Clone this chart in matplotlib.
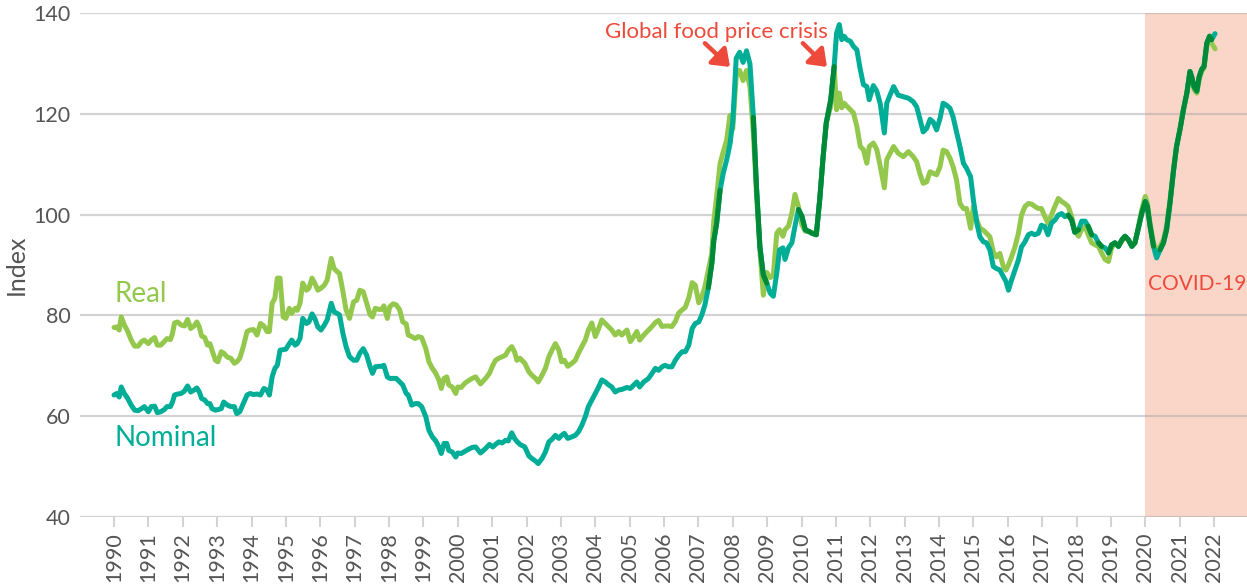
import numpy as np
import matplotlib
matplotlib.use("Agg")
import matplotlib.pyplot as plt
from matplotlib.patches import FancyArrowPatch

# ---------------- data ----------------
t = [1990.00, 1990.08, 1990.15, 1990.21, 1990.30, 1990.40, 1990.50, 1990.60, 1990.70, 1990.80,
     1990.88, 1991.00, 1991.08, 1991.18, 1991.26, 1991.36, 1991.46, 1991.54, 1991.64, 1991.70,
     1991.76, 1991.85, 1991.95, 1992.05, 1992.14, 1992.23, 1992.33, 1992.41, 1992.48, 1992.55,
     1992.64, 1992.72, 1992.79, 1992.85, 1992.95, 1993.02, 1993.12, 1993.19, 1993.30, 1993.40,
     1993.50, 1993.57, 1993.66, 1993.76, 1993.87, 1993.96, 1994.06, 1994.16, 1994.26, 1994.36,
     1994.45, 1994.52, 1994.60, 1994.68, 1994.75, 1994.83, 1994.92, 1995.00, 1995.10, 1995.17,
     1995.27, 1995.33, 1995.41, 1995.49, 1995.60, 1995.67, 1995.76, 1995.84, 1995.93, 1996.02,
     1996.12, 1996.20, 1996.32, 1996.40, 1996.49, 1996.56, 1996.66, 1996.75, 1996.85, 1996.97,
     1997.06, 1997.15, 1997.25, 1997.35, 1997.45, 1997.52, 1997.60, 1997.70, 1997.79, 1997.85,
     1997.95, 1998.02, 1998.12, 1998.21, 1998.31, 1998.40, 1998.50, 1998.56, 1998.66, 1998.76,
     1998.85, 1998.95, 1999.07, 1999.16, 1999.26, 1999.36, 1999.45, 1999.52, 1999.60, 1999.68,
     1999.74, 1999.84, 1999.94, 2000.00, 2000.10, 2000.20, 2000.30, 2000.42, 2000.52, 2000.66,
     2000.81, 2000.92, 2001.02, 2001.10, 2001.19, 2001.29, 2001.39, 2001.47, 2001.57, 2001.65,
     2001.72, 2001.81, 2001.95, 2002.07, 2002.16, 2002.26, 2002.34, 2002.45, 2002.55, 2002.65,
     2002.74, 2002.84, 2002.94, 2003.02, 2003.10, 2003.20, 2003.32, 2003.42, 2003.51, 2003.61,
     2003.71, 2003.80, 2003.90, 2004.00, 2004.10, 2004.19, 2004.29, 2004.39, 2004.48, 2004.58,
     2004.68, 2004.77, 2004.92, 2005.02, 2005.12, 2005.21, 2005.29, 2005.41, 2005.55, 2005.65,
     2005.75, 2005.84, 2005.94, 2006.03, 2006.13, 2006.23, 2006.33, 2006.43, 2006.53, 2006.62,
     2006.72, 2006.82, 2006.91, 2007.01, 2007.10, 2007.19, 2007.29, 2007.39, 2007.45, 2007.53,
     2007.63, 2007.72, 2007.82, 2007.92, 2008.00, 2008.10, 2008.20, 2008.30, 2008.40, 2008.50,
     2008.60, 2008.69, 2008.79, 2008.89, 2008.99, 2009.09, 2009.18, 2009.28, 2009.36, 2009.46,
     2009.52, 2009.62, 2009.72, 2009.81, 2009.91, 2010.01, 2010.11, 2010.20, 2010.30, 2010.43,
     2010.53, 2010.63, 2010.72, 2010.85, 2010.95, 2011.02, 2011.10, 2011.17, 2011.24, 2011.32,
     2011.42, 2011.51, 2011.61, 2011.71, 2011.80, 2011.90, 2011.97, 2012.09, 2012.19, 2012.29,
     2012.41, 2012.48, 2012.58, 2012.68, 2012.81, 2012.96, 2013.11, 2013.25, 2013.35, 2013.44,
     2013.54, 2013.64, 2013.74, 2013.83, 2013.93, 2014.03, 2014.12, 2014.22, 2014.32, 2014.41,
     2014.51, 2014.61, 2014.71, 2014.80, 2014.92, 2015.00, 2015.10, 2015.19, 2015.29, 2015.38,
     2015.48, 2015.58, 2015.67, 2015.77, 2015.87, 2015.95, 2016.02, 2016.11, 2016.21, 2016.31,
     2016.40, 2016.50, 2016.60, 2016.69, 2016.79, 2016.89, 2016.98, 2017.08, 2017.17, 2017.27,
     2017.37, 2017.47, 2017.57, 2017.66, 2017.76, 2017.86, 2017.95, 2018.06, 2018.15, 2018.25,
     2018.34, 2018.44, 2018.54, 2018.64, 2018.73, 2018.83, 2018.93, 2019.02, 2019.12, 2019.22,
     2019.32, 2019.41, 2019.51, 2019.61, 2019.70, 2019.80, 2019.90, 2020.00, 2020.06, 2020.14,
     2020.24, 2020.33, 2020.43, 2020.53, 2020.62, 2020.72, 2020.82, 2020.91, 2021.01, 2021.11,
     2021.21, 2021.30, 2021.35, 2021.42, 2021.50, 2021.57, 2021.64, 2021.71, 2021.79, 2021.87,
     2021.93, 2022.03]

real = [77.6, 77.7, 77.1, 79.7, 78.1, 76.8, 75.1, 73.9, 73.9, 74.8,
        75.1, 74.4, 75.1, 75.6, 74.1, 74.1, 74.8, 75.4, 75.2, 76.4,
        78.5, 78.7, 78.1, 77.9, 79.2, 77.4, 77.9, 78.7, 77.7, 75.9,
        75.6, 74.1, 74.4, 73.1, 71.1, 70.8, 72.8, 72.5, 71.7, 71.5,
        70.5, 70.8, 71.5, 73.8, 76.8, 77.1, 77.2, 76.1, 78.4, 77.9,
        76.8, 76.8, 82.4, 83.4, 87.4, 87.4, 79.7, 79.4, 81.4, 80.4,
        81.4, 81.0, 82.4, 86.4, 85.0, 85.4, 87.4, 86.4, 85.0, 85.4,
        86.0, 87.0, 91.3, 89.3, 88.7, 88.3, 84.7, 81.1, 79.4, 82.7,
        83.0, 85.0, 84.7, 82.4, 80.1, 79.7, 81.4, 81.2, 81.2, 81.9,
        79.4, 81.7, 82.3, 82.1, 81.1, 78.7, 78.3, 76.1, 75.8, 75.4,
        75.8, 75.6, 73.4, 70.8, 69.5, 68.5, 67.2, 65.5, 67.5, 67.8,
        66.2, 65.8, 64.5, 65.8, 65.7, 66.5, 67.0, 67.5, 67.8, 66.4,
        67.5, 68.5, 70.1, 71.1, 71.5, 71.8, 72.1, 73.1, 73.8, 72.8,
        71.1, 71.5, 70.5, 68.8, 68.1, 67.5, 66.8, 68.1, 69.5, 71.8,
        73.1, 74.4, 73.1, 70.8, 71.1, 69.9, 70.5, 71.1, 72.5, 73.8,
        75.1, 77.1, 78.5, 75.8, 77.4, 79.1, 78.4, 77.7, 77.1, 76.1,
        76.8, 76.1, 77.1, 74.8, 75.8, 76.8, 75.1, 76.1, 77.1, 77.8,
        78.6, 79.0, 77.8, 77.9, 77.9, 77.8, 78.8, 80.5, 81.1, 81.6,
        83.5, 86.5, 86.0, 82.5, 83.7, 85.7, 89.0, 92.3, 98.9, 103.5,
        110.1, 112.4, 114.7, 119.7, 117.0, 127.5, 128.6, 126.6, 128.6, 125.3,
        116.0, 104.2, 92.9, 84.0, 88.5, 87.5, 88.0, 96.3, 97.0, 95.7,
        97.0, 97.7, 100.3, 104.0, 101.6, 98.0, 96.7, 96.7, 96.5, 96.0,
        103.0, 111.6, 118.2, 121.5, 129.4, 120.8, 124.1, 121.2, 122.1, 121.5,
        120.8, 120.2, 117.5, 113.5, 112.9, 110.2, 113.5, 114.2, 112.9, 109.6,
        105.3, 110.9, 112.2, 113.5, 112.2, 111.5, 112.5, 111.5, 110.5, 108.2,
        106.2, 106.5, 108.5, 108.2, 107.9, 109.5, 112.8, 112.5, 111.2, 109.5,
        106.9, 102.2, 101.2, 101.2, 97.3, 101.6, 98.9, 97.3, 96.9, 96.3,
        95.6, 92.6, 91.6, 92.3, 89.7, 89.0, 90.0, 91.6, 93.6, 96.3,
        99.9, 101.6, 102.2, 102.1, 101.6, 101.2, 101.2, 99.6, 98.3, 99.9,
        101.6, 103.2, 102.6, 102.2, 101.6, 99.6, 96.8, 95.7, 97.0, 97.7,
        96.0, 94.4, 94.0, 93.7, 92.4, 91.1, 90.7, 93.4, 94.4, 93.7,
        94.7, 95.7, 95.0, 93.7, 94.4, 97.7, 101.0, 103.6, 102.3, 98.3,
        94.4, 92.7, 93.7, 95.0, 97.7, 103.0, 108.9, 113.5, 116.9, 120.8,
        124.1, 128.1, 127.1, 124.8, 124.1, 126.8, 128.4, 129.1, 133.4, 135.0,
        134.0, 132.9]

nominal = [64.2, 64.5, 63.8, 65.8, 64.5, 63.5, 62.2, 61.2, 61.1, 61.5,
           61.9, 60.9, 61.9, 62.0, 60.7, 60.9, 61.3, 61.9, 61.9, 62.8,
           64.2, 64.4, 64.5, 65.0, 66.0, 64.8, 65.2, 65.6, 64.8, 63.5,
           63.2, 62.5, 62.5, 61.5, 61.2, 61.3, 61.5, 62.8, 62.2, 61.9,
           61.9, 60.5, 60.9, 62.5, 64.2, 64.5, 64.3, 64.4, 64.2, 65.5,
           65.2, 64.2, 67.8, 69.5, 70.1, 73.1, 73.2, 73.3, 74.4, 75.1,
           74.1, 74.4, 75.4, 79.4, 78.4, 78.7, 80.3, 79.4, 77.7, 77.1,
           78.1, 79.1, 82.4, 80.7, 80.4, 80.1, 76.4, 73.8, 71.8, 71.1,
           71.1, 72.5, 73.4, 72.1, 69.8, 68.5, 69.8, 69.9, 69.9, 70.1,
           67.8, 67.5, 67.5, 67.5, 66.8, 66.2, 64.5, 64.2, 62.2, 62.5,
           62.5, 61.9, 59.9, 57.2, 55.9, 55.1, 53.9, 52.6, 54.6, 54.6,
           53.2, 52.9, 51.9, 52.7, 52.6, 53.0, 53.4, 53.8, 53.9, 52.7,
           53.6, 54.4, 53.9, 54.4, 54.9, 54.7, 55.2, 55.1, 56.7, 55.6,
           55.0, 54.4, 53.9, 52.1, 51.6, 51.1, 50.6, 51.6, 52.9, 54.9,
           55.4, 56.2, 55.6, 56.2, 56.6, 55.6, 55.9, 56.2, 56.9, 58.2,
           59.9, 61.9, 63.2, 64.5, 65.8, 67.2, 66.8, 66.2, 65.8, 64.8,
           65.2, 65.3, 65.7, 65.5, 66.2, 66.8, 65.8, 66.8, 67.5, 68.5,
           69.5, 69.1, 69.8, 70.1, 69.8, 69.8, 71.1, 72.1, 72.8, 72.8,
           74.1, 77.4, 78.4, 78.7, 80.1, 82.1, 85.5, 90.3, 94.9, 98.2,
           104.8, 108.1, 110.8, 114.0, 118.5, 131.0, 132.2, 130.2, 132.5, 129.9,
           119.3, 105.5, 93.6, 88.0, 86.4, 84.4, 83.8, 88.4, 93.0, 93.4,
           91.1, 93.4, 94.4, 97.7, 101.0, 99.7, 97.0, 96.7, 96.3, 96.0,
           103.0, 111.6, 118.2, 122.8, 129.4, 136.0, 137.7, 134.7, 135.4, 134.7,
           134.4, 133.4, 132.7, 128.8, 125.8, 125.4, 122.8, 125.6, 124.5, 122.0,
           116.2, 122.1, 123.8, 125.4, 123.7, 123.4, 123.1, 122.4, 121.4, 119.1,
           116.4, 117.1, 118.9, 118.4, 116.8, 119.1, 122.1, 121.7, 121.1, 119.4,
           116.4, 113.5, 110.2, 109.2, 107.5, 102.9, 98.3, 95.6, 94.6, 94.4,
           93.0, 89.7, 89.3, 89.0, 87.7, 86.7, 85.0, 87.0, 89.0, 91.0,
           93.6, 94.6, 96.0, 96.3, 96.0, 96.3, 97.9, 97.6, 96.0, 98.3,
           98.9, 99.9, 100.2, 99.6, 99.9, 98.9, 96.5, 97.0, 98.7, 98.7,
           97.7, 96.0, 95.7, 94.4, 93.7, 93.4, 92.4, 94.0, 94.4, 93.7,
           95.0, 95.7, 95.0, 93.7, 94.4, 97.3, 100.3, 102.6, 101.6, 97.7,
           93.7, 91.4, 93.0, 94.4, 97.0, 102.3, 108.6, 113.5, 116.9, 120.8,
           124.1, 128.4, 127.4, 125.4, 124.5, 127.4, 128.8, 129.4, 134.0, 135.4,
           134.7, 135.9]

year_ticks = list(range(1990, 2023))
y_ticks = [40, 60, 80, 100, 120, 140]
covid_start = 2020.0

# ---------------- styling ----------------
C_REAL = "#93c84d"
C_NOM = "#00ad97"
C_BOTH = "#008a37"
C_RED = "#ee4a3b"
C_SHADE = "#fad6c8"
C_TEXT = "#555555"
FONT = ["Lato", "DejaVu Sans"]
plt.rcParams["font.family"] = FONT

W, H = 1247, 584
fig = plt.figure(figsize=(W / 100, H / 100), dpi=100)
ax = fig.add_axes([80 / W, 67 / H, 1167 / W, 504 / H])
x0, x1 = 1989.01, 2022.96
ax.set_xlim(x0, x1)
ax.set_ylim(40, 140)

ax.axvspan(covid_start, x1, color=C_SHADE, lw=0, zorder=0)
for yv in y_ticks:
    ax.axhline(yv, color="#a8a8a8", alpha=0.5, lw=1.6, zorder=1)

lw = 3.6
ax.plot(t, real, color=C_REAL, lw=lw, solid_joinstyle="round", solid_capstyle="round", zorder=3)
ax.plot(t, nominal, color=C_NOM, lw=lw, solid_joinstyle="round", solid_capstyle="round", zorder=4)

# emulate the darker tone where the two lines overlap (multiply look)
fig.canvas.draw()
tr = ax.transData
P = tr.transform(np.column_stack([t, nominal]))
Q = tr.transform(np.column_stack([t, real]))
A = Q[:-1]
B = Q[1:]
AB = B - A
L2 = (AB ** 2).sum(1)
L2[L2 == 0] = 1e-9
d = np.empty(len(P))
for i, p in enumerate(P):
    u = np.clip(((p - A) * AB).sum(1) / L2, 0, 1)
    proj = A + u[:, None] * AB
    d[i] = np.sqrt(((proj - p) ** 2).sum(1)).min()
mask = d < 3.6
both = np.where(mask, np.array(nominal, float), np.nan)
ax.plot(t, both, color=C_BOTH, lw=lw, solid_joinstyle="round", solid_capstyle="round", zorder=5)

# axes cosmetics
for s in ax.spines.values():
    s.set_visible(False)
ax.set_yticks(y_ticks)
ax.set_yticklabels([str(v) for v in y_ticks])
ax.set_xticks(year_ticks)
ax.set_xticklabels([str(y) for y in year_ticks], rotation=90)
ax.tick_params(axis="y", length=0, pad=7, labelsize=15.5, labelcolor=C_TEXT)
ax.tick_params(axis="x", length=7, width=1.5, color="#d4d4d4", pad=4,
               labelsize=15.5, labelcolor=C_TEXT)
ax.set_ylabel("Index", fontsize=18, color=C_TEXT, labelpad=4)

# series labels
ax.text(1990.0, 82.7, "Real", color=C_REAL, fontsize=20, ha="left", va="baseline")
ax.text(1990.0, 54.0, "Nominal", color=C_NOM, fontsize=20, ha="left", va="baseline")

# annotations
ax.text(2007.52, 135.0, "Global food price crisis", color=C_RED, fontsize=16,
        ha="center", va="baseline")
for (xa, ya, xb, yb) in [(2007.19, 134.0, 2007.92, 129.3), (2010.04, 134.0, 2010.74, 129.3)]:
    ar = FancyArrowPatch((xa, ya), (xb, yb), arrowstyle="-|>,head_length=6,head_width=4.5",
                         color=C_RED, lw=3.2, mutation_scale=1.6, shrinkA=0, shrinkB=0,
                         zorder=6)
    ax.add_patch(ar)
ax.text(2020.08, 85.0, "COVID-19", color=C_RED, fontsize=15, ha="left", va="baseline")

fig.savefig("out.png", dpi=100)
